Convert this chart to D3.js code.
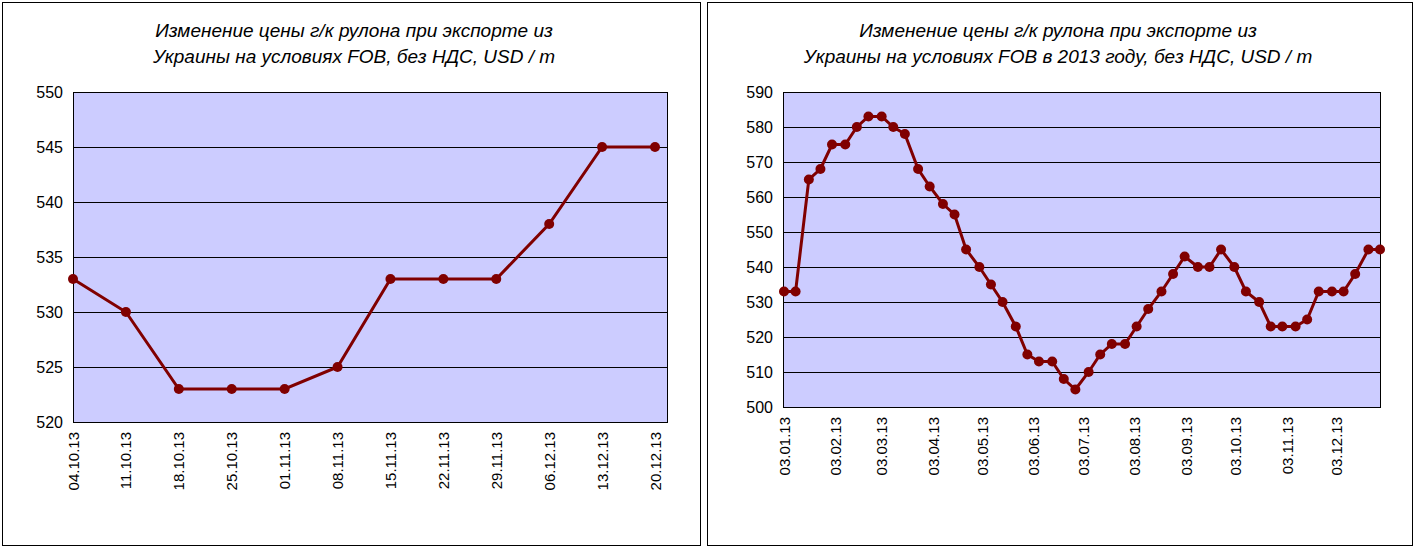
<!DOCTYPE html>
<html><head><meta charset="utf-8">
<script src="https://cdn.jsdelivr.net/npm/d3@7/dist/d3.min.js"></script>
<style>body{margin:0;background:#fff}svg{display:block;font-family:"Liberation Sans",Arial,sans-serif}</style>
</head><body><svg id="c" width="1417" height="550"></svg>
<script>
const leftTitle = ["Изменение цены г/к рулона при экспорте из", "Украины на условиях FOB, без НДС, USD / т"];
const leftCategories = ["04.10.13","11.10.13","18.10.13","25.10.13","01.11.13","08.11.13","15.11.13","22.11.13","29.11.13","06.12.13","13.12.13","20.12.13"];
const leftValues = [533,530,523,523,523,525,533,533,533,538,545,545];
const leftTicks = [520,525,530,535,540,545,550];

const rightTitle = ["Изменение цены г/к рулона при экспорте из", "Украины на условиях FOB в 2013 году, без НДС, USD / т"];
const rightDates = ["2013-01-03","2013-01-10","2013-01-18","2013-01-25","2013-02-01","2013-02-09","2013-02-16","2013-02-23","2013-03-03","2013-03-10","2013-03-17","2013-03-25","2013-04-01","2013-04-09","2013-04-16","2013-04-23","2013-05-01","2013-05-08","2013-05-15","2013-05-23","2013-05-30","2013-06-06","2013-06-14","2013-06-21","2013-06-28","2013-07-06","2013-07-13","2013-07-20","2013-07-28","2013-08-04","2013-08-11","2013-08-19","2013-08-26","2013-09-02","2013-09-10","2013-09-17","2013-09-24","2013-10-02","2013-10-09","2013-10-17","2013-10-24","2013-10-31","2013-11-08","2013-11-15","2013-11-22","2013-11-30","2013-12-07","2013-12-14","2013-12-22","2013-12-29"];
const rightValues = [533,533,565,568,575,575,580,583,583,580,578,568,563,558,555,545,540,535,530,523,515,513,513,508,505,510,515,518,518,523,528,533,538,543,540,540,545,540,533,530,523,523,523,525,533,533,533,538,545,545];
const rightTicks = [500,510,520,530,540,550,560,570,580,590];
const rightTickDates = ["2013-01-03","2013-02-03","2013-03-03","2013-04-03","2013-05-03","2013-06-03","2013-07-03","2013-08-03","2013-09-03","2013-10-03","2013-11-03","2013-12-03"];

const svg = d3.select("#c");
const LINE = "#800000";

function frame(x0, x1, title, cx){
  svg.append("rect").attr("x",x0+0.5).attr("y",2.5).attr("width",x1-x0).attr("height",543).attr("fill","#fff").attr("stroke","#000");
  title.forEach((t,i)=>svg.append("text").attr("x",cx).attr("y",37+i*26).attr("text-anchor","middle")
    .attr("font-style","italic").attr("font-size",19).text(t));
}

function panel(cfg){
  const {px0,px1,py0,py1,y,ticks,xpos,labels,vals} = cfg;
  const g = svg.append("g");
  g.append("rect").attr("x",px0).attr("y",py0).attr("width",px1-px0).attr("height",py1-py0).attr("fill","#CCCCFF");
  ticks.forEach(t=>{
    g.append("line").attr("x1",px0).attr("x2",px1).attr("y1",Math.round(y(t))+0.5).attr("y2",Math.round(y(t))+0.5).attr("stroke","#000");
    g.append("text").attr("x",px0-10).attr("y",y(t)+6).attr("text-anchor","end").attr("font-size",16).text(t);
  });
  g.append("rect").attr("x",px0+0.5).attr("y",py0+0.5).attr("width",px1-px0).attr("height",py1-py0).attr("fill","none").attr("stroke","#000");
  labels.forEach(([pos,txt])=>{
    g.append("text").attr("transform",`translate(${pos+5.5},${py1+10}) rotate(-90)`).attr("text-anchor","end").attr("font-size",15).text(txt);
  });
  const line = d3.line().x(d=>d[0]).y(d=>y(d[1]));
  const pts = vals.map((v,i)=>[xpos(i),v]);
  g.append("path").attr("d",line(pts)).attr("fill","none").attr("stroke",LINE).attr("stroke-width",3);
  g.selectAll(null).data(pts).join("circle").attr("cx",d=>d[0]).attr("cy",d=>y(d[1])).attr("r",5).attr("fill",LINE);
}

frame(2,700,leftTitle,354);
frame(707,1412,rightTitle,1058);

const xl = d3.scalePoint().domain(leftCategories).range([73,655]);
const yl = d3.scaleLinear().domain([520,550]).range([422,92]);
panel({px0:73,px1:667,py0:92,py1:422,y:yl,ticks:leftTicks,xpos:i=>xl(leftCategories[i]),
  labels:leftCategories.map(c=>[xl(c),c]),vals:leftValues});

const parse = d3.timeParse("%Y-%m-%d");
const fmt = d3.timeFormat("%d.%m.%y");
const dates = rightDates.map(parse);
const xr = d3.scaleTime().domain(d3.extent(dates)).range([784,1380]);
const yr = d3.scaleLinear().domain([500,590]).range([407,92]);
panel({px0:783,px1:1380,py0:92,py1:407,y:yr,ticks:rightTicks,xpos:i=>xr(dates[i]),
  labels:rightTickDates.map(s=>[xr(parse(s)),fmt(parse(s))]),vals:rightValues});
</script></body></html>
